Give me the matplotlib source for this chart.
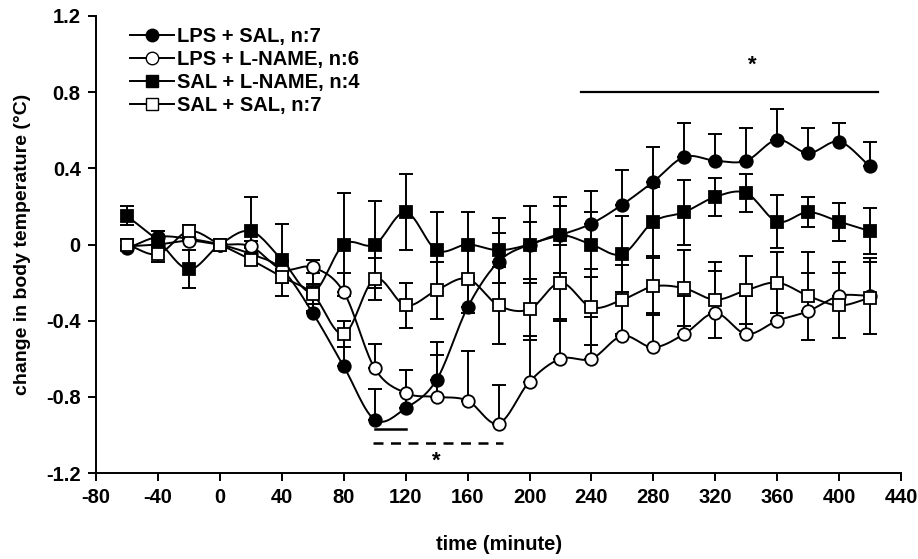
import numpy as np
import matplotlib
matplotlib.use("Agg")
import matplotlib.pyplot as plt
from matplotlib.lines import Line2D

plt.rcParams['font.family'] = ['Liberation Sans', 'DejaVu Sans']
plt.rcParams['font.weight'] = 'bold'
plt.rcParams['axes.unicode_minus'] = False

# dati
time = [-60, -40, -20, 0, 20, 40, 60, 80, 100, 120, 140, 160, 180, 200,
        220, 240, 260, 280, 300, 320, 340, 360, 380, 400, 420]

lps_sal = [-0.02, 0.04, 0.03, 0, -0.05, -0.13, -0.36, -0.64, -0.92, -0.86, -0.71, -0.33, -0.09,
           0.00, 0.05, 0.11, 0.21, 0.33, 0.46, 0.44, 0.44, 0.55, 0.48, 0.54, 0.41]
lps_sal_err = [0.04, 0.03, 0.03, 0, 0.03, 0.05, 0.05, 0.10, 0.16, 0.20, 0.20, 0.15, 0.15,
               0.12, 0.15, 0.17, 0.18, 0.18, 0.18, 0.14, 0.17, 0.16, 0.13, 0.10, 0.13]

lps_lname = [-0.01, 0.00, 0.02, 0, -0.01, -0.13, -0.12, -0.25, -0.65, -0.78, -0.80, -0.82, -0.94,
             -0.72, -0.60, -0.60, -0.48, -0.54, -0.47, -0.36, -0.47, -0.40, -0.35, -0.27, -0.27]
lps_lname_err = [0.03, 0.03, 0.03, 0, 0.03, 0.04, 0.04, 0.10, 0.13, 0.12, 0.22, 0.26, 0.20,
                 0.24, 0.21, 0.22, 0.20, 0.18, 0.20, 0.22, 0.20, 0.22, 0.20, 0.18, 0.20]

sal_lname = [0.15, 0.02, -0.13, 0, 0.07, -0.08, -0.25, 0.00, 0.00, 0.17, -0.03, 0.00, -0.03,
             0.00, 0.05, 0.00, -0.05, 0.12, 0.17, 0.25, 0.27, 0.12, 0.17, 0.12, 0.07]
sal_lname_err = [0.05, 0.05, 0.10, 0, 0.18, 0.19, 0.10, 0.27, 0.23, 0.20, 0.20, 0.17, 0.17,
                 0.20, 0.20, 0.17, 0.20, 0.18, 0.17, 0.10, 0.10, 0.14, 0.08, 0.10, 0.12]

sal_sal = [0.00, -0.05, 0.07, 0, -0.08, -0.17, -0.26, -0.47, -0.18, -0.32, -0.24, -0.18, -0.32,
           -0.34, -0.20, -0.33, -0.29, -0.22, -0.23, -0.29, -0.24, -0.20, -0.27, -0.32, -0.28]
sal_sal_err = [0.03, 0.04, 0.03, 0, 0.03, 0.03, 0.05, 0.07, 0.11, 0.12, 0.15, 0.18, 0.20,
               0.16, 0.20, 0.20, 0.18, 0.15, 0.20, 0.20, 0.18, 0.16, 0.23, 0.17, 0.19]

labels = ['LPS + SAL, n:7', 'LPS + L-NAME, n:6', 'SAL + L-NAME, n:4', 'SAL + SAL, n:7']


def smooth(x, y, n=16):
    # curva Catmull-Rom solo per il disegno della linea
    x = np.asarray(x, float)
    y = np.asarray(y, float)
    px = np.concatenate([[2 * x[0] - x[1]], x, [2 * x[-1] - x[-2]]])
    py = np.concatenate([[2 * y[0] - y[1]], y, [2 * y[-1] - y[-2]]])
    t = np.linspace(0, 1, n, endpoint=False)
    xs, ys = [], []
    for i in range(1, len(px) - 2):
        for p, out in ((px, xs), (py, ys)):
            p0, p1, p2, p3 = p[i - 1], p[i], p[i + 1], p[i + 2]
            out.append(0.5 * (2 * p1 + (-p0 + p2) * t
                              + (2 * p0 - 5 * p1 + 4 * p2 - p3) * t ** 2
                              + (-p0 + 3 * p1 - 3 * p2 + p3) * t ** 3))
    xs.append([x[-1]])
    ys.append([y[-1]])
    return np.concatenate(xs), np.concatenate(ys)


fig = plt.figure(figsize=(9.18, 5.59), dpi=100)
ax = fig.add_axes([0.1046, 0.1538, 0.877, 0.8176])

series = [
    (lps_sal, lps_sal_err, 'o', 'black', True, 9),
    (lps_lname, lps_lname_err, 'o', 'white', True, 9),
    (sal_lname, sal_lname_err, 's', 'black', False, 9),
    (sal_sal, sal_sal_err, 's', 'white', False, 8.5),
]

t = np.array(time)
for vals, err, mk, fc, up_only, ms in series:
    v = np.array(vals)
    e = np.array(err)
    yerr = [np.zeros_like(e), e] if up_only else [e, e]
    ax.errorbar(t, v, yerr=yerr, fmt='none', ecolor='black', elinewidth=1.4,
                capsize=4.8, capthick=1.4, zorder=2)
    sx, sy = smooth(t, v)
    ax.plot(sx, sy, color='black', lw=1.4, zorder=3)
    ax.plot(t, v, linestyle='none', marker=mk, ms=ms, mfc=fc, mec='black',
            mew=1.3, zorder=4)

# segni di significativita'
ax.plot([233, 425], [0.8, 0.8], color='black', lw=1.6)
ax.text(344, 0.94, '*', ha='center', va='center', fontsize=16)
ax.plot([100, 120], [-0.97, -0.97], color='black', lw=1.8)
ax.plot([99, 183], [-1.04, -1.04], color='black', lw=1.8, linestyle=(0, (4, 3)))
ax.text(140, -1.14, '*', ha='center', va='center', fontsize=16)

ax.set_xlim(-80, 440)
ax.set_ylim(-1.2, 1.2)
ax.set_xticks(np.arange(-80, 441, 40))
ax.set_yticks([-1.2, -0.8, -0.4, 0, 0.4, 0.8, 1.2])
ax.set_yticklabels(['-1.2', '-0.8', '-0.4', '0', '0.4', '0.8', '1.2'])
ax.spines['top'].set_visible(False)
ax.spines['right'].set_visible(False)
for s in ('left', 'bottom'):
    ax.spines[s].set_linewidth(1.4)
ax.tick_params(direction='out', length=6, width=1.4, labelsize=14.5, pad=5)
for lab in ax.get_xticklabels() + ax.get_yticklabels():
    lab.set_fontweight('bold')

ax.set_xlabel('time (minute)', fontsize=14.5, fontweight='bold', labelpad=20)
ax.set_ylabel('change in body temperature (°C)', fontsize=14, fontweight='bold', labelpad=11)

handles = [
    Line2D([], [], color='black', lw=1.4, marker='o', ms=9, mfc='black', mec='black'),
    Line2D([], [], color='black', lw=1.4, marker='o', ms=9, mfc='white', mec='black'),
    Line2D([], [], color='black', lw=1.4, marker='s', ms=9, mfc='black', mec='black'),
    Line2D([], [], color='black', lw=1.4, marker='s', ms=9, mfc='white', mec='black'),
]
leg = ax.legend(handles, labels, loc='upper left', bbox_to_anchor=(0.042, 0.975),
                frameon=False, fontsize=14.5, handlelength=2.2, handletextpad=0.15,
                labelspacing=0.2, borderaxespad=0, borderpad=0)
for txt in leg.get_texts():
    txt.set_fontweight('bold')

fig.savefig('out.png', dpi=100)
